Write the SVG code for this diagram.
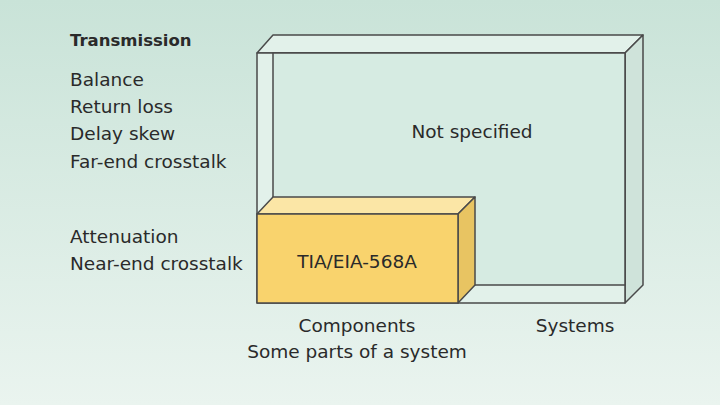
<svg xmlns="http://www.w3.org/2000/svg" width="720" height="405" viewBox="0 0 720 405">
<defs>
<linearGradient id="bg" x1="0" y1="0" x2="0" y2="1"><stop offset="0" stop-color="#c9e3d8"/><stop offset="1" stop-color="#eaf4ef"/></linearGradient>
</defs>
<style>
text{font-family:"DejaVu Sans","Liberation Sans",sans-serif;font-size:18.5px;fill:#2a2a2a}
.b{font-weight:bold;font-size:16.5px}
.m{text-anchor:middle}
.f{stroke:#4a4a4a;stroke-width:1.5;stroke-linejoin:round}
</style>
<rect width="720" height="405" fill="url(#bg)"/>
<g id="labels">
<text class="b" x="70" y="46">Transmission</text>
<text x="70" y="86">Balance</text>
<text x="70" y="113">Return loss</text>
<text x="70" y="140">Delay skew</text>
<text x="70" y="168">Far-end crosstalk</text>
<text x="70" y="243">Attenuation</text>
<text x="70" y="270">Near-end crosstalk</text>
</g>
<g id="systems-box">
<polygon class="f" points="257,53 273,35 643,35 625,53" fill="#e2f1ea"/>
<polygon class="f" points="625,53 643,35 643,285 625,303" fill="#cfe3da"/>
<polygon class="f" points="257,53 625,53 625,303 257,303" fill="#e2f1ea"/>
<rect class="f" x="273" y="53" width="352" height="232" fill="#d6ebe2"/>
<text class="m" x="472" y="138">Not specified</text>
<text class="m" x="575" y="332">Systems</text>
</g>
<g id="components-box">
<polygon class="f" points="257,214 273,197 475,197 458,214" fill="#fbe6a6"/>
<polygon class="f" points="458,214 475,197 475,285 458,303" fill="#e8c462"/>
<rect class="f" x="257" y="214" width="201" height="89" fill="#f9d36d"/>
<text class="m" x="357" y="268">TIA/EIA-568A</text>
<text class="m" x="357" y="332">Components</text>
<text class="m" x="357" y="358">Some parts of a system</text>
</g>
<g id="connectors"/>
</svg>
